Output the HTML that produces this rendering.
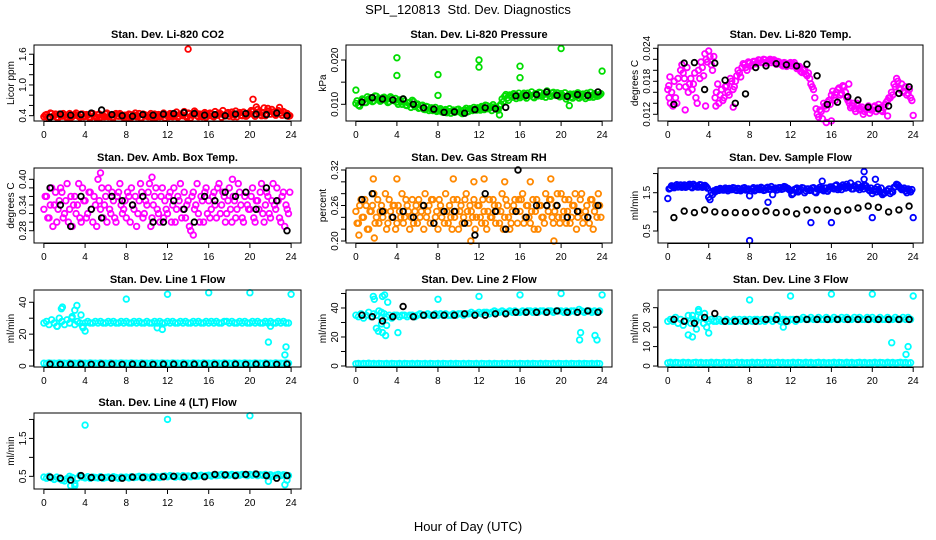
<!DOCTYPE html>
<html><head><meta charset="utf-8">
<style>
html,body{margin:0;padding:0;background:#fff;}
svg{display:block;font-family:"Liberation Sans",sans-serif;}
</style></head>
<body>
<svg id="chart" width="936" height="540" viewBox="0 0 936 540">
<text x="468" y="14" text-anchor="middle" font-size="13">SPL_120813 &#160;Std. Dev. Diagnostics</text>
<text x="468" y="531" text-anchor="middle" font-size="13">Hour of Day (UTC)</text>
</svg>
<script>
// ---- data ----
const co2Vals=[0.38,0.42,0.36,0.44,0.40,0.37,0.43,0.39,0.41,0.36,0.44,0.38,0.42,0.40,0.37,0.43,0.39,0.41,0.36,0.44,0.38,0.42,0.37,0.40,0.43,0.38,0.41,0.36,0.44,0.39,0.42,0.37,0.40,0.43,0.37,0.41,0.38,0.44,0.36,0.42,0.39,0.41,0.37,0.43,0.40,0.38,0.42,0.36,0.41,0.44,0.38,0.42,0.37,0.43,0.40,0.39,0.45,0.36,0.42,0.46,0.38,0.41,0.44,0.37,0.40,0.43,0.38,0.42,0.45,0.37,0.41,0.44,0.39,0.47,0.42,0.38,0.46,0.40,0.43,0.41,0.44,0.48,0.39,0.52,0.42,0.46,0.40,0.54,0.43,0.47,0.41,0.50,0.45,0.48,0.42,0.39];
const co2ValsB=[0.41,0.37,0.45,0.39,0.43,0.36,0.40,0.44,0.38,0.42,0.37,0.41,0.45,0.39,0.43,0.38,0.42,0.37,0.44,0.40,0.36,0.43,0.41,0.38,0.45,0.39,0.37,0.42,0.40,0.44,0.38,0.41,0.37,0.42,0.40,0.45,0.39,0.36,0.43,0.41,0.38,0.44,0.40,0.37,0.42,0.39,0.45,0.41,0.38,0.43,0.40,0.47,0.39,0.42,0.48,0.37,0.44,0.41,0.49,0.40,0.43,0.38,0.46,0.42,0.45,0.39,0.48,0.41,0.44,0.50,0.40,0.46,0.43,0.38,0.49,0.44,0.41,0.47,0.39,0.45,0.50,0.42,0.57,0.46,0.40,0.55,0.44,0.49,0.52,0.43,0.47,0.56,0.41,0.46,0.44,0.40];
const co2Out=[[14,1.7],[20.3,0.72]];
const co2Black=[0.37,0.43,0.41,0.42,0.45,0.51,0.42,0.40,0.39,0.42,0.41,0.43,0.44,0.46,0.44,0.41,0.42,0.40,0.43,0.44,0.43,0.42,0.45,0.40];

const presVals=[.0102,.0098,.0106,.0110,.0104,.0112,.0115,.0108,.0118,.0113,.0109,.0116,.0111,.0106,.0114,.0108,.0105,.0110,.0100,.0107,.0097,.0104,.0109,.0095,.0101,.0092,.0098,.0088,.0094,.0090,.0086,.0093,.0085,.0090,.0082,.0088,.0084,.0080,.0087,.0083,.0089,.0081,.0086,.0091,.0084,.0088,.0093,.0087,.0090,.0095,.0088,.0097,.0091,.0086,.0094,.0089,.0096,.0112,.0118,.0114,.0121,.0116,.0123,.0119,.0115,.0122,.0118,.0125,.0120,.0117,.0124,.0119,.0126,.0121,.0116,.0123,.0118,.0127,.0122,.0119,.0124,.0118,.0112,.0121,.0117,.0123,.0119,.0114,.0122,.0118,.0125,.0116,.0120,.0124,.0118,.0121];
const presValsB=[.0108,.0096,.0112,.0104,.0117,.0109,.0106,.0119,.0112,.0107,.0115,.0110,.0104,.0117,.0109,.0113,.0100,.0106,.0112,.0098,.0103,.0093,.0106,.0099,.0091,.0097,.0089,.0095,.0086,.0092,.0089,.0084,.0088,.0083,.0086,.0081,.0090,.0085,.0082,.0088,.0084,.0079,.0087,.0083,.0090,.0086,.0089,.0092,.0087,.0093,.0098,.0090,.0095,.0099,.0092,.0087,.0100,.0106,.0122,.0109,.0118,.0124,.0113,.0125,.0119,.0125,.0114,.0121,.0128,.0115,.0122,.0127,.0118,.0124,.0130,.0119,.0125,.0121,.0126,.0117,.0120,.0126,.0117,.0123,.0114,.0120,.0126,.0118,.0123,.0113,.0121,.0127,.0116,.0122,.0119,.0124];
const presOut=[[0,.0132],[4,.0205],[4,.0165],[8,.0167],[8,.0120],[12,.0200],[12,.0184],[16,.0186],[16,.0160],[20,.0226],[24,.0175],[20.8,.0097],[14,.0076]];
const presBlack=[.0105,.0115,.0112,.0110,.0112,.0100,.0092,.0089,.0082,.0083,.0080,.0088,.0092,.0090,.0093,.0119,.0120,.0122,.0128,.0120,.0118,.0122,.0120,.0128];

const tempVals=[.0165,.0140,.0135,.0150,.0185,.0200,.0195,.0170,.0160,.0185,.0175,.0150,.0200,.0215,.0190,.0220,.0235,.0210,.0225,.0160,.0140,.0165,.0150,.0172,.0155,.0180,.0170,.0190,.0195,.0205,.0210,.0200,.0213,.0210,.0216,.0214,.0218,.0215,.0219,.0216,.0220,.0217,.0214,.0216,.0212,.0208,.0213,.0210,.0214,.0211,.0209,.0205,.0198,.0200,.0193,.0195,.0175,.0165,.0130,.0115,.0125,.0140,.0130,.0145,.0155,.0150,.0160,.0168,.0158,.0170,.0150,.0140,.0135,.0130,.0140,.0128,.0133,.0125,.0130,.0122,.0128,.0135,.0130,.0132,.0125,.0138,.0145,.0150,.0155,.0170,.0180,.0165,.0160,.0170,.0158,.0150];
const tempValsB=[.0150,.0160,.0180,.0140,.0170,.0210,.0185,.0205,.0175,.0165,.0195,.0140,.0185,.0205,.0230,.0215,.0225,.0200,.0150,.0175,.0155,.0145,.0170,.0160,.0185,.0165,.0180,.0200,.0188,.0212,.0205,.0215,.0208,.0216,.0212,.0219,.0214,.0220,.0213,.0218,.0214,.0219,.0211,.0215,.0210,.0214,.0207,.0212,.0208,.0214,.0203,.0207,.0196,.0202,.0190,.0185,.0170,.0150,.0120,.0128,.0112,.0135,.0142,.0138,.0162,.0145,.0165,.0155,.0172,.0160,.0145,.0132,.0140,.0125,.0135,.0130,.0120,.0128,.0135,.0128,.0133,.0125,.0138,.0127,.0132,.0142,.0150,.0160,.0175,.0185,.0168,.0175,.0162,.0155,.0165,.0145];
const tempOut=[[0.1,.0172],[0.2,.0188],[1.7,.0128],[3.7,.0135],[4.7,.0135],[6.4,.0133],[17.7,.0175],[24,.0118],[21.5,.0117],[15.5,.0105],[16,.0108]];
const tempBlack=[.0138,.0213,.0214,.0165,.0213,.0182,.0140,.0157,.0205,.0208,.0212,.0210,.0208,.0211,.0190,.0138,.0142,.0152,.0146,.0133,.0130,.0135,.0158,.0170];

const ambVals=[.33,.36,.31,.38,.34,.30,.35,.37,.32,.39,.33,.29,.36,.34,.31,.38,.35,.32,.37,.30,.34,.40,.33,.31,.36,.38,.32,.35,.30,.37,.34,.33,.31,.36,.38,.33,.29,.35,.37,.32,.34,.39,.31,.36,.33,.30,.38,.35,.32,.37,.34,.30,.36,.39,.33,.31,.35,.28,.37,.34,.32,.36,.30,.38,.35,.33,.37,.31,.39,.34,.36,.32,.38,.30,.35,.33,.37,.31,.36,.34,.33,.38,.30,.35,.37,.32,.34,.36,.31,.39,.33,.35,.30,.37,.34,.32];
const ambValsB=[.36,.31,.34,.29,.37,.33,.38,.31,.35,.30,.36,.34,.32,.39,.30,.35,.31,.37,.33,.36,.29,.35,.38,.34,.30,.33,.37,.31,.36,.39,.32,.35,.37,.30,.34,.36,.32,.39,.31,.35,.37,.29,.34,.38,.32,.36,.31,.33,.36,.30,.38,.33,.35,.31,.37,.34,.29,.36,.33,.39,.30,.35,.37,.32,.31,.36,.34,.38,.32,.37,.30,.35,.33,.36,.31,.39,.34,.30,.37,.33,.36,.31,.35,.33,.39,.30,.37,.32,.35,.34,.38,.31,.36,.29,.33,.37];
const ambOut=[[5.5,.415],[10.5,.405],[14.5,.27],[18.3,.40]];
const ambBlack=[.38,.34,.29,.36,.33,.31,.36,.35,.34,.36,.30,.30,.35,.33,.30,.36,.35,.37,.36,.37,.33,.38,.35,.28];

const rhVals=[.25,.23,.27,.24,.26,.22,.25,.28,.24,.23,.26,.25,.22,.27,.24,.26,.23,.25,.28,.24,.26,.22,.27,.25,.23,.24,.26,.28,.25,.23,.27,.24,.22,.26,.25,.28,.23,.24,.27,.25,.22,.26,.24,.28,.23,.25,.27,.24,.26,.23,.25,.22,.27,.24,.26,.25,.23,.28,.24,.26,.22,.25,.27,.23,.25,.28,.24,.26,.23,.27,.25,.22,.26,.24,.28,.25,.27,.23,.26,.24,.28,.25,.23,.27,.24,.26,.22,.25,.28,.24,.26,.23,.27,.25,.24,.26];
const rhValsB=[.23,.26,.24,.27,.22,.25,.26,.23,.27,.25,.24,.28,.23,.25,.26,.22,.26,.24,.23,.27,.25,.24,.23,.26,.27,.25,.22,.24,.26,.27,.23,.25,.27,.24,.23,.25,.26,.22,.24,.27,.25,.23,.27,.25,.26,.24,.22,.26,.24,.27,.23,.25,.24,.27,.23,.26,.25,.22,.27,.24,.23,.26,.25,.27,.27,.23,.26,.24,.25,.22,.27,.26,.24,.23,.26,.27,.24,.25,.28,.23,.24,.27,.25,.23,.26,.28,.24,.27,.23,.25,.24,.27,.22,.26,.28,.24];
const rhOut=[[1.7,.305],[4,.305],[9.5,.305],[11.5,.30],[12.5,.305],[14.5,.30],[17,.30],[19,.305],[0.3,.21],[1.8,.205],[11.2,.20],[19.3,.20]];
const rhBlack=[.27,.28,.25,.24,.25,.24,.26,.23,.25,.25,.23,.21,.28,.25,.22,.25,.24,.26,.26,.26,.24,.25,.24,.26];
const rhBlackOut=[[15.8,0.32]];

const flowVals=[1.35,1.62,1.66,1.68,1.65,1.70,1.67,1.64,1.69,1.66,1.72,1.68,1.65,1.70,1.67,1.66,1.38,1.50,1.55,1.58,1.56,1.60,1.57,1.59,1.61,1.58,1.62,1.56,1.60,1.58,1.63,1.59,1.42,1.60,1.55,1.62,1.58,1.61,1.57,1.64,1.60,1.45,1.62,1.58,1.63,1.60,1.65,1.61,1.55,1.48,1.60,1.52,1.58,1.62,1.55,1.60,1.57,1.63,1.50,1.58,1.60,1.55,1.62,1.59,1.65,1.60,1.70,1.62,1.58,1.66,1.72,1.64,1.60,1.68,1.62,1.58,1.66,1.70,1.63,1.55,1.48,1.60,1.65,1.52,1.45,1.50,1.55,1.48,1.52,1.66,1.70,1.62,1.58,1.55,1.60,1.52];
const flowValsB=[1.60,1.68,1.63,1.71,1.66,1.64,1.70,1.66,1.72,1.63,1.68,1.65,1.71,1.64,1.69,1.62,1.32,1.45,1.52,1.56,1.61,1.57,1.62,1.55,1.58,1.63,1.57,1.61,1.55,1.62,1.57,1.60,1.55,1.63,1.58,1.60,1.64,1.56,1.62,1.59,1.66,1.60,1.57,1.63,1.59,1.66,1.62,1.58,1.45,1.58,1.62,1.55,1.63,1.50,1.60,1.56,1.62,1.52,1.60,1.64,1.57,1.62,1.54,1.65,1.62,1.68,1.58,1.65,1.70,1.62,1.67,1.75,1.60,1.66,1.72,1.64,1.60,1.68,1.58,1.62,1.55,1.52,1.58,1.62,1.48,1.55,1.60,1.53,1.64,1.72,1.66,1.58,1.62,1.50,1.56,1.58];
const flowOut=[[8,0.25],[14,0.72],[16,0.72],[19.2,2.05],[19.2,1.85],[20.3,1.85],[20,0.85],[24,0.85],[9.8,1.25],[15.1,1.8]];
const flowBlack=[0.85,1.02,0.98,1.05,1.00,0.98,0.98,0.98,1.00,1.02,0.98,1.00,0.95,1.05,1.05,1.05,1.02,1.05,1.10,1.15,1.12,1.00,1.05,1.15];

const l1High=[27,28,26,29,27,25,30,28,26,29,27,31,26,28,27,25,27,28,27,27,28,27,28,27,27,28,27,28,27,27,28,27,28,27,27,28,27,28,27,27,28,27,27,28,27,28,27,27,28,27,28,27,27,28,27,28,27,27,28,27,28,27,27,28,27,28,27,28,27,27,28,28,27,28,27,27,28,27,28,27,27,28,27,28,27,27,28,27,28,27,27,28,27,28,27,27];
const l1Low=[1.8,1.6,1.9,1.7,1.8,1.6,1.9,1.7,1.8,1.6,1.9,1.7,1.8,1.6,1.9,1.7,1.8,1.6,1.9,1.7,1.8,1.6,1.9,1.7,1.8,1.6,1.9,1.7,1.8,1.6,1.9,1.7,1.8,1.6,1.9,1.7,1.8,1.6,1.9,1.7,1.8,1.6,1.9,1.7,1.8,1.6,1.9,1.7,1.8,1.6,1.9,1.7,1.8,1.6,1.9,1.7,1.8,1.6,1.9,1.7,1.8,1.6,1.9,1.7,1.8,1.6,1.9,1.7,1.8,1.6,1.9,1.7,1.8,1.6,1.9,1.7,1.8,1.6,1.9,1.7,1.8,1.6,1.9,1.7,1.8,1.6,1.9,1.7,1.8,1.6,1.9,1.7,1.8,1.6,1.9,1.7];
const l1Out=[[1.7,36],[1.8,37],[3,35],[3.2,38],[3.6,32],[2.7,30],[3.8,24],[4,22],[8,42],[12,45],[16,46],[20,46],[24,45],[11,24],[11.5,23],[21.8,15],[22,25],[23.4,7],[23.5,12],[1.3,25]];
const l1Black=[1.2,1.1,1.2,1.2,1.1,1.2,1.2,1.1,1.2,1.2,1.1,1.2,1.2,1.1,1.2,1.2,1.1,1.2,1.2,1.1,1.2,1.2,1.1,1.2];

const l2High=[35,34,36,33,35,37,34,36,35,38,33,36,34,35,33,35,35,34,35,35,34,35,35,34,35,36,35,35,36,35,35,36,35,36,35,36,35,35,36,35,36,36,35,36,36,37,36,36,37,36,37,37,36,37,38,37,37,38,37,37,38,37,38,37,37,38,37,38,38,37,38,37,38,38,37,38,38,37,38,38,38,37,38,37,38,38,37,39,38,37,38,38,37,38,37,38];
const l2Low=[1.5,1.8,1.4,1.7,1.6,1.9,1.5,1.7,1.4,1.8,1.6,1.5,1.7,1.4,1.8,1.6,1.5,1.7,1.4,1.8,1.6,1.5,1.7,1.4,1.8,1.6,1.5,1.7,1.4,1.8,1.6,1.5,1.7,1.4,1.8,1.6,1.5,1.7,1.4,1.8,1.6,1.5,1.7,1.4,1.8,1.6,1.5,1.7,1.4,1.8,1.6,1.5,1.7,1.4,1.8,1.6,1.5,1.7,1.4,1.8,1.6,1.5,1.7,1.4,1.8,1.6,1.5,1.7,1.4,1.8,1.6,1.5,1.7,1.4,1.8,1.6,1.5,1.7,1.4,1.8,1.6,1.5,1.7,1.4,1.8,1.6,1.5,1.7,1.4,1.8,1.6,1.5,1.7,1.4,1.8,1.6];
const l2Out=[[1.7,48],[1.8,46],[2.6,48],[2.8,49],[3.1,44],[2,26],[2.2,24],[2.5,29],[2.6,23],[2.9,21],[3,28],[4.1,23],[8,46],[12,48],[16,49],[20,50],[24,49],[21.8,18],[21.9,23],[23.3,21],[23.5,18],[2.5,37]];
const l2Black=[35,34,31,34,41,34,35,35,35,35,36,35,35,36,36,37,37,37,37,38,37,37,38,37];

const l3High=[23,24,23,25,22,24,21,23,26,22,24,23,28,25,22,24,23,24,23,23,24,23,23,24,23,23,24,23,24,23,24,23,24,23,24,24,23,24,23,24,24,23,24,24,23,24,24,23,24,24,23,24,24,25,24,24,25,24,24,25,24,24,25,24,24,25,24,24,25,24,25,24,24,25,24,25,24,24,25,24,25,24,24,25,24,24,25,24,24,25,24,24,25,24,25,24];
const l3Low=[1.6,1.9,1.5,1.8,1.7,1.5,1.9,1.6,1.8,1.5,1.7,1.9,1.6,1.8,1.5,1.7,1.6,1.9,1.5,1.8,1.7,1.5,1.9,1.6,1.8,1.5,1.7,1.9,1.6,1.8,1.5,1.7,1.6,1.9,1.5,1.8,1.7,1.5,1.9,1.6,1.8,1.5,1.7,1.9,1.6,1.8,1.5,1.7,1.6,1.9,1.5,1.8,1.7,1.5,1.9,1.6,1.8,1.5,1.7,1.9,1.6,1.8,1.5,1.7,1.6,1.9,1.5,1.8,1.7,1.5,1.9,1.6,1.8,1.5,1.7,1.9,1.6,1.8,1.5,1.7,1.6,1.9,1.5,1.8,1.7,1.5,1.9,1.6,1.8,1.5,1.7,1.9,1.6,1.8,1.5,1.7];
const l3Out=[[2,16],[2.4,15],[2.8,19],[3,29],[3.6,27],[3.8,20],[4,17],[3.5,22],[8,34],[12,36],[16,37],[20,37],[24,36],[10.7,26],[11.3,20],[21.9,12],[23.3,6],[23.5,10],[2.4,26]];
const l3Black=[24,23,22,25,27,23,23,23,23,24,24,23,24,24,24,24,24,24,24,24,24,24,24,24];

const l4Vals=[.48,.45,.50,.46,.42,.48,.44,.40,.38,.44,.50,.47,.30,.45,.52,.48,.46,.49,.45,.48,.47,.46,.49,.45,.47,.48,.46,.49,.47,.45,.48,.47,.48,.46,.49,.47,.48,.50,.47,.49,.48,.46,.50,.48,.49,.47,.50,.51,.49,.52,.50,.48,.51,.49,.52,.50,.51,.49,.52,.50,.51,.53,.50,.52,.53,.51,.54,.52,.53,.55,.52,.54,.53,.55,.52,.54,.53,.55,.54,.52,.55,.53,.56,.52,.54,.53,.55,.52,.54,.50,.53,.55,.52,.54,.53,.52];
const l4Out=[[4,1.85],[12,2.0],[20,2.1],[2.6,0.25],[3,0.25],[21.8,0.37],[23.4,0.28],[23.6,0.4]];
const l4Black=[.48,.45,.40,.52,.47,.47,.45,.45,.48,.47,.48,.49,.50,.48,.52,.49,.55,.54,.52,.55,.56,.52,.45,.52];

const xTicks=[0,4,8,12,16,20,24];

// ---- layout ----
const NS="http://www.w3.org/2000/svg";
const svg=document.getElementById('chart');
const cols=[[34,301],[346,612],[658,923]];
const rows=[[45,121],[168,243],[290,367],[413,489]];
function mk(tag,attrs,parent){const e=document.createElementNS(NS,tag);for(const k in attrs)e.setAttribute(k,attrs[k]);(parent||svg).appendChild(e);return e;}

const panels=[
 {name:'co2',title:'Stan. Dev. Li-820 CO2',yl:'Licor ppm',c:0,r:0,ylim:[0.296,1.78],ticks:[0.4,0.6,0.8,1.0,1.2,1.4,1.6],labs:['0.4','','','1.0','','','1.6'],color:'#ff0000',series:[co2Vals],seriesB:[co2ValsB],out:co2Out,black:co2Black},
 {name:'pressure',title:'Stan. Dev. Li-820 Pressure',yl:'kPa',c:1,r:0,ylim:[0.00623,0.02339],ticks:[0.010,0.015,0.020],labs:['0.010','','0.020'],color:'#00dd00',series:[presVals],seriesB:[presValsB],out:presOut,black:presBlack},
 {name:'temp',title:'Stan. Dev. Li-820 Temp.',yl:'degrees C',c:2,r:0,ylim:[0.01078,0.0246],ticks:[0.012,0.014,0.016,0.018,0.020,0.022,0.024],labs:['0.012','','','0.018','','','0.024'],color:'#ff00ff',series:[tempVals],seriesB:[tempValsB],out:tempOut,black:tempBlack},
 {name:'amb-box-temp',title:'Stan. Dev. Amb. Box Temp.',yl:'degrees C',c:0,r:1,ylim:[0.2513,0.4264],ticks:[0.28,0.30,0.32,0.34,0.36,0.38,0.40],labs:['0.28','','','0.34','','','0.40'],color:'#ff00ff',series:[ambVals],seriesB:[ambValsB],out:ambOut,black:ambBlack},
 {name:'gas-rh',title:'Stan. Dev. Gas Stream RH',yl:'percent',c:1,r:1,ylim:[0.1966,0.3234],ticks:[0.20,0.22,0.24,0.26,0.28,0.30,0.32],labs:['0.20','','','0.26','','','0.32'],color:'#ff8800',series:[rhVals],seriesB:[rhValsB],out:rhOut,black:rhBlack,extraBlack:rhBlackOut},
 {name:'sample-flow',title:'Stan. Dev. Sample Flow',yl:'ml/min',c:2,r:1,ylim:[0.187,2.145],ticks:[0.5,1.0,1.5,2.0],labs:['0.5','','1.5',''],color:'#0000ff',series:[flowVals],seriesB:[flowValsB],out:flowOut,black:flowBlack},
 {name:'line1-flow',title:'Stan. Dev. Line 1 Flow',yl:'ml/min',c:0,r:2,ylim:[-0.6,47.7],ticks:[0,10,20,30,40],labs:['0','','20','','40'],color:'#00ffff',series:[l1High,l1Low],seriesB:[],out:l1Out,black:l1Black},
 {name:'line2-flow',title:'Stan. Dev. Line 2 Flow',yl:'ml/min',c:1,r:2,ylim:[-0.7,52.4],ticks:[0,10,20,30,40,50],labs:['0','','20','','40',''],color:'#00ffff',series:[l2High,l2Low],seriesB:[],out:l2Out,black:l2Black},
 {name:'line3-flow',title:'Stan. Dev. Line 3 Flow',yl:'ml/min',c:2,r:2,ylim:[-0.5,39.1],ticks:[0,10,20,30],labs:['0','10','20','30'],color:'#00ffff',series:[l3High,l3Low],seriesB:[],out:l3Out,black:l3Black},
 {name:'line4-flow',title:'Stan. Dev. Line 4 (LT) Flow',yl:'ml/min',c:0,r:3,ylim:[0.166,2.17],ticks:[0.5,1.0,1.5,2.0],labs:['0.5','','1.5',''],color:'#00ffff',series:[l4Vals],seriesB:[],out:l4Out,black:l4Black}
];

panels.forEach(p=>{
 const [x0,x1]=cols[p.c],[y0,y1]=rows[p.r];
 const g=mk('g',{});
 
 
 const xs=v=>x0+(v+0.96)/25.92*(x1-x0);
 const ys=v=>y1-(v-p.ylim[0])/(p.ylim[1]-p.ylim[0])*(y1-y0);
 const t=mk('text',{x:(x0+x1)/2,y:y0-7,'text-anchor':'middle','font-size':'11','font-weight':'bold'},g);
 t.textContent=p.title;
 
 
 const yt=mk('text',{x:0,y:0,'text-anchor':'middle','font-size':'10',transform:`translate(${x0-20},${(y0+y1)/2}) rotate(-90)`},g);
 yt.textContent=p.yl;
 
 
 const pts=mk('g',{fill:'none','stroke-width':'1.8'},g);
 
 
 const dot=(x,y,col)=>{mk('circle',{cx:xs(x).toFixed(1),cy:ys(y).toFixed(1),r:'2.8',stroke:col},pts);};
 p.series.forEach(s=>s.forEach((v,i)=>dot(i*0.25,v,p.color)));
 p.seriesB.forEach(s=>s.forEach((v,i)=>dot(i*0.25+0.125,v,p.color)));
 p.out.forEach(o=>dot(o[0],o[1],p.color));
 p.black.forEach((v,i)=>dot(i+0.6,v,'#000'));
 (p.extraBlack||[]).forEach(o=>dot(o[0],o[1],'#000'));
 const box=mk('rect',{x:x0,y:y0,width:x1-x0,height:y1-y0,fill:'none',stroke:'#000','stroke-width':'1'},g);
 
 
 const xa=mk('g',{stroke:'#000','stroke-width':'1'},g);
 
 
 mk('line',{x1:xs(0),x2:xs(24),y1:y1+0.5,y2:y1+0.5},xa);
 xTicks.forEach(v=>{
  mk('line',{x1:xs(v),x2:xs(v),y1:y1,y2:y1+5},xa);
  const l=mk('text',{x:xs(v),y:y1+17,'text-anchor':'middle','font-size':'10',stroke:'none',fill:'#000'},xa);
  l.textContent=v;
 });
 const ya=mk('g',{stroke:'#000','stroke-width':'1'},g);
 
 
 mk('line',{x1:x0-0.5,x2:x0-0.5,y1:ys(p.ticks[0]),y2:ys(p.ticks[p.ticks.length-1])},ya);
 p.ticks.forEach((v,i)=>{
  mk('line',{x1:x0-5,x2:x0,y1:ys(v),y2:ys(v)},ya);
  if(p.labs[i]){
   const l=mk('text',{x:0,y:0,'text-anchor':'middle','font-size':'10',stroke:'none',fill:'#000',transform:`translate(${x0-8},${ys(v)}) rotate(-90)`},ya);
   l.textContent=p.labs[i];
  }
 });
});
</script>
</body></html>
